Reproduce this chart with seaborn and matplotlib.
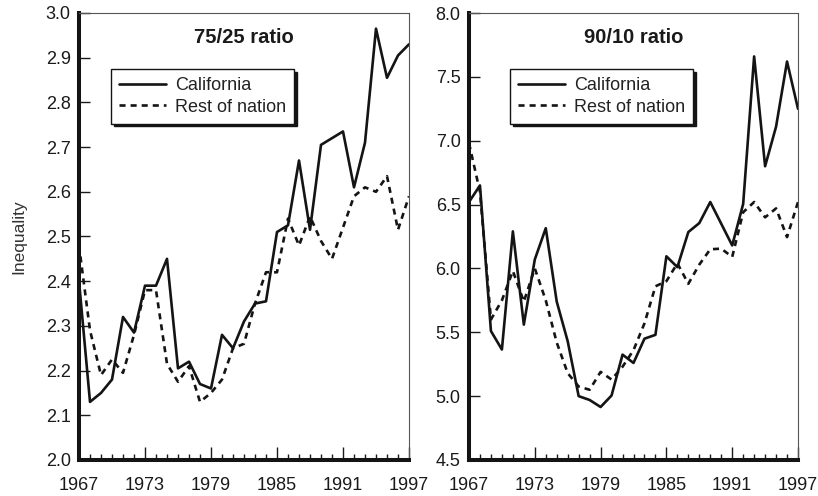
import numpy as np
import pandas as pd
import matplotlib
matplotlib.use("Agg")
import matplotlib.pyplot as plt
from matplotlib.ticker import MultipleLocator, FixedLocator, FormatStrFormatter
import seaborn as sns

# ---- data -------------------------------------------------------------
years = list(range(1967, 1998))
series_names = ["California", "Rest of nation"]

ratio_75_25_california = [2.40, 2.13, 2.15, 2.18, 2.32, 2.285, 2.39, 2.39, 2.45, 2.205,
                          2.22, 2.17, 2.16, 2.28, 2.25, 2.31, 2.35, 2.355, 2.51, 2.525,
                          2.67, 2.515, 2.705, 2.72, 2.735, 2.61, 2.71, 2.965, 2.855, 2.905,
                          2.93]
ratio_75_25_rest = [2.48, 2.29, 2.19, 2.225, 2.195, 2.28, 2.38, 2.38, 2.215, 2.175,
                    2.21, 2.13, 2.15, 2.18, 2.25, 2.26, 2.35, 2.42, 2.42, 2.54,
                    2.48, 2.545, 2.49, 2.45, 2.52, 2.59, 2.61, 2.60, 2.635, 2.515,
                    2.59]
ratio_90_10_california = [6.52, 6.65, 5.51, 5.365, 6.29, 5.56, 6.07, 6.315, 5.74, 5.43,
                          5.00, 4.97, 4.915, 5.005, 5.325, 5.26, 5.45, 5.48, 6.095, 6.01,
                          6.285, 6.355, 6.52, 6.35, 6.18, 6.505, 7.66, 6.80, 7.11, 7.62,
                          7.25]
ratio_90_10_rest = [6.98, 6.60, 5.60, 5.75, 5.98, 5.74, 6.00, 5.75, 5.42, 5.18,
                    5.075, 5.05, 5.19, 5.13, 5.23, 5.36, 5.57, 5.86, 5.90, 6.04,
                    5.88, 6.03, 6.15, 6.155, 6.09, 6.44, 6.52, 6.40, 6.47, 6.245,
                    6.52]

panel_titles = ["75/25 ratio", "90/10 ratio"]
x_tick_years = [1967, 1973, 1979, 1985, 1991, 1997]
y_limits = [(2.0, 3.0), (4.5, 8.0)]
y_steps = [0.1, 0.5]


def long_frame(ca, rest):
    return pd.DataFrame({
        "Year": years * 2,
        "Inequality": list(ca) + list(rest),
        "Region": [series_names[0]] * len(years) + [series_names[1]] * len(years),
    })


panels = [long_frame(ratio_75_25_california, ratio_75_25_rest),
          long_frame(ratio_90_10_california, ratio_90_10_rest)]

# ---- style ------------------------------------------------------------
sns.set_style("ticks")
plt.rcParams["font.family"] = ["Liberation Sans", "DejaVu Sans"]
plt.rcParams["text.color"] = "#222222"
plt.rcParams["axes.labelcolor"] = "#333333"
plt.rcParams["xtick.color"] = "#1a1a1a"
plt.rcParams["ytick.color"] = "#1a1a1a"

ink = "#141414"
fig = plt.figure(figsize=(8.18, 4.96), dpi=100)
axes = [fig.add_axes([79 / 818, 1 - 460 / 496, 330 / 818, 447 / 496]),
        fig.add_axes([469 / 818, 1 - 460 / 496, 329 / 818, 447 / 496])]
legend_x = [0.097, 0.125]

for i, ax in enumerate(axes):
    sns.lineplot(data=panels[i], x="Year", y="Inequality", style="Region",
                 style_order=series_names,
                 dashes={series_names[0]: "", series_names[1]: (2.3, 1.9)},
                 color=ink, linewidth=1.9, ax=ax, legend=True)

    ax.set_xlim(1967, 1997)
    ax.set_ylim(*y_limits[i])
    ax.xaxis.set_major_locator(FixedLocator(x_tick_years))
    ax.xaxis.set_minor_locator(MultipleLocator(1))
    ax.yaxis.set_major_locator(MultipleLocator(y_steps[i]))
    ax.yaxis.set_major_formatter(FormatStrFormatter("%.1f"))

    ax.tick_params(axis="y", which="major", direction="in", length=8, width=1.0,
                   labelsize=13, pad=6)
    ax.tick_params(axis="x", which="major", direction="in", length=9.5, width=1.0,
                   labelsize=13, pad=12)
    ax.tick_params(axis="x", which="minor", direction="in", length=4.5, width=1.0)

    for side in ("left", "bottom"):
        ax.spines[side].set_linewidth(2.9)
        ax.spines[side].set_color(ink)
    for side in ("top", "right"):
        ax.spines[side].set_linewidth(0.8)
        ax.spines[side].set_color("#555555")

    ax.set_xlabel("")
    if i == 0:
        ax.set_ylabel("Inequality", fontsize=12.5, labelpad=14)
    else:
        ax.set_ylabel("")

    ax.text(0.5, 0.946, panel_titles[i], transform=ax.transAxes, ha="center",
            va="center", fontsize=14.5, fontweight="bold", color="#1a1a1a")

    handles, labels = ax.get_legend_handles_labels()
    leg = ax.legend(handles, labels, loc="upper left",
                    bbox_to_anchor=(legend_x[i], 0.875), fontsize=13,
                    frameon=True, fancybox=False, framealpha=1,
                    edgecolor=ink, facecolor="white",
                    shadow={"color": ink, "alpha": 1},
                    borderpad=0.45, labelspacing=0.25, handlelength=2.6,
                    handletextpad=0.5, borderaxespad=0)
    leg.get_frame().set_linewidth(1.0)
    for line in leg.get_lines():
        line.set_linewidth(1.9)

fig.savefig("out.png", dpi=100)
